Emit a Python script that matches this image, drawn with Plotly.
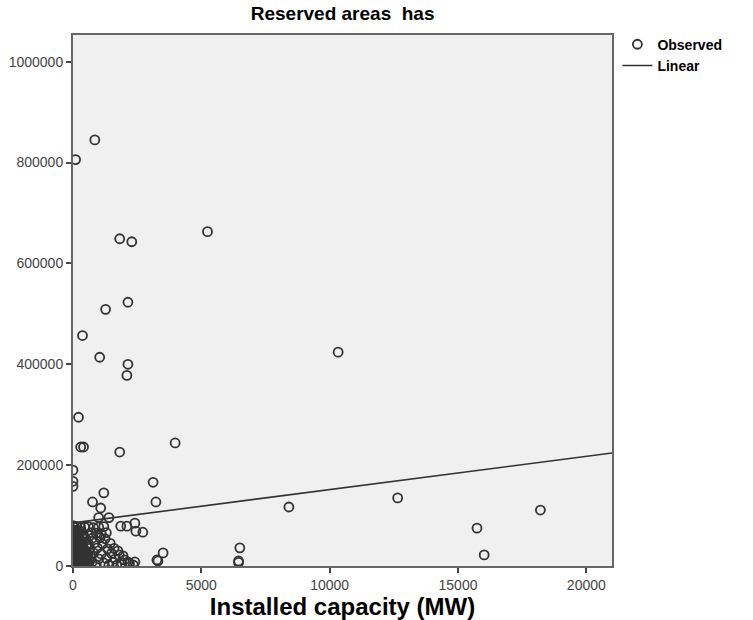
import plotly.graph_objects as go

# Observed points: installed capacity (MW) vs reserved area (ha)
cap_mw = [
    850, 100, 1820, 2290, 5240, 1270, 2140, 370, 1040, 2140, 2100, 215, 300, 410, 1820, 3980,
    10330, 12650, 15740, 16020, 18210, 8410, 3120, 3230, 3510, 3270, 6500, 6450, 6450,
    0, 0, 0, 1200, 760, 1080, 1000, 1400, 1860, 2100, 2410, 2450, 2720, 3310, 2410, 2140,
    50, 150, 300, 450, 600, 800, 1000, 1200,
    20, 200, 400, 700, 900, 1100, 1300,
    80, 250, 500, 750, 1050, 1250,
    10, 150, 350, 600, 850, 1150, 1450,
    60, 220, 420, 650, 950, 1350, 1600, 1750,
    30, 180, 330, 550, 800, 1100, 1500, 1800, 1950,
    5, 100, 250, 450, 700, 1000, 1300, 1650, 2000,
    40, 150, 300, 500, 750, 1200, 1550, 1900, 2200,
    0, 80, 200, 350, 600, 900, 1400, 1700, 2350,
    10, 30, 50, 70, 90, 120, 20, 60, 15, 40, 100, 130, 200, 260, 320, 380, 420, 480, 540, 250,
    0, 0, 0, 0, 0, 25, 35, 45, 110, 170, 230, 290, 350, 400, 460, 520, 580, 640, 700, 180,
    5, 15, 25, 35, 55, 75, 95, 115, 135, 155, 175, 195, 215, 235, 255, 275, 295, 315, 335, 355,
    12, 32, 52, 72, 92, 112, 132, 152, 172, 192, 212, 232, 272, 312, 352, 392, 432, 472, 512, 552,
]
area_ha = [
    845000, 806000, 649000, 643000, 663000, 509000, 523000, 457000, 414000, 400000, 378000, 295000, 236000, 236000, 226000, 244000,
    424000, 135000, 75000, 22000, 111000, 117000, 166000, 127000, 26000, 12000, 36000, 10000, 7000,
    190000, 168000, 158000, 145000, 127000, 115000, 96000, 96000, 79000, 79000, 85000, 69000, 67000, 10000, 8000, 8000,
    77000, 78000, 76000, 77000, 78000, 76000, 77000, 78000,
    66000, 65000, 64000, 66000, 65000, 64000, 66000,
    55000, 56000, 54000, 55000, 56000, 54000,
    45000, 46000, 44000, 45000, 46000, 44000, 45000,
    35000, 36000, 34000, 35000, 36000, 34000, 35000, 30000,
    25000, 26000, 24000, 25000, 26000, 24000, 25000, 22000, 20000,
    15000, 16000, 14000, 15000, 16000, 14000, 15000, 14000, 12000,
    7000, 8000, 6000, 7000, 8000, 6000, 7000, 6000, 5000,
    2000, 1500, 2500, 2000, 1500, 2500, 2000, 1500, 2000,
    5000, 12000, 20000, 30000, 40000, 50000, 60000, 70000, 1000, 3000, 8000, 500, 15000, 35000, 28000, 10000, 55000, 18000, 42000, 70000,
    10000, 25000, 45000, 65000, 80000, 18000, 38000, 8000, 28000, 48000, 9000, 19000, 60000, 4000, 31000, 12000, 22000, 9000, 20000, 52000,
    33000, 52000, 4000, 22000, 62000, 14000, 33000, 52000, 6000, 25000, 44000, 3000, 21000, 40000, 10000, 30000, 49000, 4000, 18000, 40000,
    72000, 9000, 35000, 16000, 58000, 27000, 68000, 5000, 40000, 22000, 52000, 62000, 12000, 48000, 21000, 58000, 30000, 6000, 28000, 14000,
]

# Linear fit
fit_intercept = 85500
fit_slope = 6.6
fit_x = [0, 21000]
fit_y = [fit_intercept + fit_slope * v for v in fit_x]

x_ticks = [0, 5000, 10000, 15000, 20000]
y_ticks = [0, 200000, 400000, 600000, 800000, 1000000]

font_fam = "Liberation Sans, Arial, sans-serif"

fig = go.Figure()
fig.add_trace(go.Scatter(
    x=cap_mw, y=area_ha, mode="markers", name="<b>Observed</b>",
    marker=dict(symbol="circle-open", size=9, color="#333333", line=dict(width=1.8, color="#333333")),
))
fig.add_trace(go.Scatter(
    x=fit_x, y=fit_y, mode="lines", name="<b>Linear</b>",
    line=dict(color="#333333", width=1.6),
))

axis_common = dict(
    showgrid=False, zeroline=False, showline=True, linecolor="#666666", linewidth=2,
    mirror=True, ticks="outside", ticklen=5, tickwidth=1.5, tickcolor="#444444",
    tickfont=dict(family=font_fam, size=14, color="#444444"), automargin=False,
)
fig.update_layout(
    width=753, height=620, autosize=False,
    margin=dict(l=73, r=141, t=35, b=54),
    paper_bgcolor="white", plot_bgcolor="#f0f0f0",
    title=dict(text="<b>Reserved areas  has</b>", x=0.455, xanchor="center", y=0.989, yanchor="top",
               font=dict(family=font_fam, size=19, color="black")),
    xaxis=dict(range=[0, 21000], tickvals=x_ticks, ticktext=[str(v) for v in x_ticks],
               title=dict(text="<b>Installed capacity (MW)</b>", standoff=4,
                          font=dict(family=font_fam, size=24, color="black")),
               **axis_common),
    yaxis=dict(range=[0, 1053000], tickvals=y_ticks, ticktext=[str(v) for v in y_ticks], **axis_common),
    legend=dict(x=1.01, xanchor="left", y=1.012, yanchor="top", itemwidth=30,
                font=dict(family=font_fam, size=14, color="black"),
                bgcolor="rgba(0,0,0,0)", tracegroupgap=0),
    showlegend=True,
)
fig.write_html("out.html", config={"displayModeBar": False},
               post_script="document.body.style.margin='0px';")
